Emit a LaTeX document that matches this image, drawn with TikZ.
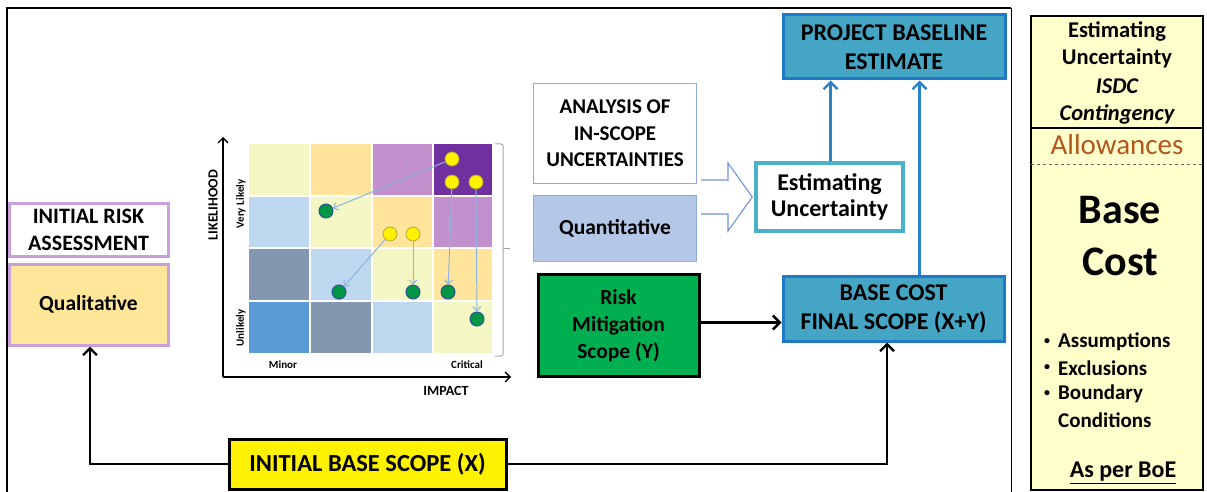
\documentclass[tikz,border=0pt]{standalone}
\usepackage{fontspec}
\setmainfont{Carlito}
\usetikzlibrary{arrows.meta,calc}

\definecolor{teal}{HTML}{45A5C4}
\definecolor{tealedge}{HTML}{1F78C8}
\definecolor{aqua}{HTML}{4BB0CA}
\definecolor{quant}{HTML}{B4C7E7}
\definecolor{quantedge}{HTML}{8FAADC}
\definecolor{mitgreen}{HTML}{00B050}
\definecolor{qualfill}{HTML}{FFE699}
\definecolor{lilac}{HTML}{C9A0DC}
\definecolor{paleyellow}{HTML}{FFFFCC}
\definecolor{allow}{HTML}{B5561E}
\definecolor{flowblue}{HTML}{2B80CA}
\definecolor{cLY}{HTML}{F4F7C3}
\definecolor{cLO}{HTML}{FFE49B}
\definecolor{cLP}{HTML}{C290CD}
\definecolor{cDP}{HTML}{7030A0}
\definecolor{cLB}{HTML}{BDD7EE}
\definecolor{cGB}{HTML}{8497B0}
\definecolor{cBL}{HTML}{5B9BD5}
\definecolor{moveblue}{HTML}{8DB3E2}
\definecolor{dotedge}{HTML}{2F5597}
\definecolor{arrowedge}{HTML}{6F96D8}

\tikzset{
  box/.style={draw, line width=3pt, align=center, inner sep=0pt,
    font=\fontsize{24}{29}\selectfont\bfseries},
  blockteal/.style={box, fill=teal, draw=tealedge},
  blackarrow/.style={line width=2.6pt, -{Straight Barb[length=7pt,width=14pt,line width=2.4pt]}},
  bluearrow/.style={draw=flowblue, line width=3pt, -{Straight Barb[length=7pt,width=14pt,line width=2.4pt]}},
  moveline/.style={draw=moveblue, line width=1pt, -{Straight Barb[length=4pt,width=8pt]}},
  ydot/.style={circle, fill=yellow, draw=olive!70, line width=0.8pt, minimum size=14pt, inner sep=0pt},
  gdot/.style={circle, fill=mitgreen!85!black, draw=dotedge, line width=1pt, minimum size=14pt, inner sep=0pt},
  axislabel/.style={font=\fontsize{14}{16}\selectfont\bfseries},
  smalllabel/.style={font=\fontsize{11}{13}\selectfont\bfseries},
  sidetext/.style={font=\fontsize{22.5}{27}\selectfont\bfseries},
  bullettext/.style={font=\fontsize{21}{25}\selectfont\bfseries, anchor=west, inner sep=0pt},
}

\begin{document}
\begin{tikzpicture}[x=1pt,y=-1pt]
\useasboundingbox (0,0) rectangle (1207,492);
\fill[white] (0,0) rectangle (1207,492);

% main frame (open at the bottom)
\draw[line width=1.8pt] (7,500) -- (7,8) -- (1011,8);
\draw[line width=1pt] (1011,8) -- (1011,500);

% ---------- side panel ----------
\draw[fill=paleyellow, line width=2pt] (1031,16) rectangle (1203,490);
\draw[line width=1.6pt] (1031,128) -- (1203,128);
\draw[dashed, gray!80!black, line width=1pt] (1031,164) -- (1203,164);
\node[sidetext] (pE) at (1117,31) {Estimating};
\node[sidetext] (pU) at (1117,58) {Uncertainty};
\node[sidetext, font=\fontsize{22.5}{27}\selectfont\bfseries\itshape] (pI) at (1117,86) {ISDC};
\node[sidetext, font=\fontsize{22.5}{27}\selectfont\bfseries\itshape] (pC) at (1117,114) {Contingency};
\node[font=\fontsize{29}{33}\selectfont, text=allow] (pA) at (1117,145) {Allowances};
\node[font=\fontsize{42}{48}\selectfont\bfseries] (pB) at (1120,210) {Base};
\node[font=\fontsize{42}{48}\selectfont\bfseries] (pCo) at (1120,262) {Cost};
\node[bullettext] (b1) at (1058,342) {Assumptions};
\node[bullettext] (b2) at (1058,368) {Exclusions};
\node[bullettext] (b3) at (1058,394) {Boundary};
\node[bullettext] (b4) at (1058,420) {Conditions};
\foreach \n in {b1,b2,b3} \node[font=\fontsize{12}{14}\selectfont\bfseries] at ([xshift=-11pt,yshift=0.5pt]\n.west) {•};
\node[font=\fontsize{24}{28}\selectfont\bfseries] (boe) at (1123,473) {\underline{As per BoE}};

% ---------- flow boxes ----------
\node[blockteal, minimum width=222pt, minimum height=64pt] (pbe) at (894,47)
  {PROJECT BASELINE\\ESTIMATE};
\node[box, draw=aqua, line width=3.5pt, fill=white, minimum width=147pt, minimum height=68pt,
  font=\fontsize{24}{26}\selectfont\bfseries] (eu) at (829.5,197)
  {Estimating\\Uncertainty};
\node[box, draw=quantedge, line width=1.5pt, fill=white, minimum width=163pt, minimum height=100pt,
  font=\fontsize{21}{26.5}\selectfont\bfseries] (ana) at (615,133.5)
  {ANALYSIS OF\\IN-SCOPE\\UNCERTAINTIES};
\node[box, draw=quantedge, line width=1.5pt, fill=quant, minimum width=163pt, minimum height=66pt,
  font=\fontsize{21.5}{26}\selectfont\bfseries] (qt) at (615,228.5) {Quantitative};
\node[box, fill=mitgreen, draw=black, minimum width=161pt, minimum height=102pt,
  font=\fontsize{21.5}{27}\selectfont\bfseries] (rm) at (618.5,325.5)
  {Risk\\Mitigation\\Scope (Y)};
\node[blockteal, minimum width=221pt, minimum height=65pt] (bc) at (893.5,308.5)
  {BASE COST\\FINAL SCOPE (X+Y)};
\node[box, fill=yellow, draw=black, minimum width=277pt, minimum height=50pt,
  font=\fontsize{24.5}{28}\selectfont\bfseries] (ibs) at (367.5,464) {INITIAL BASE SCOPE (X)};
\node[box, draw=lilac, fill=white, minimum width=159pt, minimum height=53pt,
  font=\fontsize{22}{27}\selectfont\bfseries] (ira) at (88.5,229.5)
  {INITIAL RISK\\ASSESSMENT};
\node[box, draw=lilac, fill=qualfill, minimum width=159pt, minimum height=81pt,
  font=\fontsize{21.5}{26}\selectfont\bfseries] (ql) at (88.5,304.5) {Qualitative};

% hollow block arrow from the analysis boxes to the estimating box
\draw[draw=arrowedge, fill=white, line width=1.1pt, line join=miter]
  (701,180) -- (728,180) -- (728,163) -- ([xshift=-2pt]eu.west) -- (728,231) -- (728,214) -- (701,214);

% ---------- connectors ----------
\draw[blackarrow] (ibs.west) -| ([xshift=1.5pt]ql.south);
\draw[blackarrow] (ibs.east) -| ([xshift=-6.5pt]bc.south);
\draw[blackarrow] ([yshift=3pt]rm.east) -- ([yshift=3pt]rm.east -| bc.west);
\draw[bluearrow] ([xshift=1pt]eu.north) -- ([xshift=1pt]eu.north |- pbe.south);
\draw[bluearrow] ([xshift=26pt]bc.north) -- ([xshift=26pt]bc.north |- pbe.south);

% ---------- risk matrix ----------
\def\colx{{248,310,372,433,493}}
\def\rowy{{143,196,248,301,354}}
\foreach \r/\cols in {0/{cLY,cLO,cLP,cDP},1/{cLB,cLY,cLO,cLP},2/{cGB,cLB,cLY,cLO},3/{cBL,cGB,cLB,cLY}}{
  \foreach \c [count=\i from 0] in \cols {
    \pgfmathsetmacro{\xa}{\colx[\i]}
    \pgfmathsetmacro{\xb}{\colx[\i+1]}
    \pgfmathsetmacro{\ya}{\rowy[\r]}
    \pgfmathsetmacro{\yb}{\rowy[\r+1]}
    \fill[\c] (\xa+1,\ya+1) rectangle (\xb-1,\yb-1);
  }
}
% bracket at the right side of the grid
\draw[gray!70, line width=1pt, rounded corners=2pt] (495,144) -- (503,144) -- (503,356) -- (495,356);
\draw[gray!70, line width=1pt] (503,248) -- (510,248);

% axes
\coordinate (org) at (223,377);
\coordinate (ytop) at (223,137);
\coordinate (xend) at (511,377);
\draw[line width=1.6pt, -{Straight Barb[length=5pt,width=10pt,line width=1.4pt]}] (org) -- (ytop);
\draw[line width=1.6pt, -{Straight Barb[length=5pt,width=10pt,line width=1.4pt]}] (org) -- (xend);
\node[axislabel, rotate=90] (lk) at (213,205) {LIKELIHOOD};
\node[smalllabel, rotate=90] (vl) at (241,204) {Very Likely};
\node[smalllabel, rotate=90] (ul) at (241,328) {Unlikely};
\node[smalllabel] (mn) at (283,365) {Minor};
\node[smalllabel] (cr) at (467,365) {Critical};
\node[axislabel] (im) at (446,391) {IMPACT};

% risks before and after mitigation
\node[ydot] (y1) at (452,159) {};
\node[ydot] (y2) at (452,182) {};
\node[ydot] (y3) at (476,182) {};
\node[ydot] (y4) at (390,234) {};
\node[ydot] (y5) at (413,234) {};
\node[gdot] (g1) at (326,211) {};
\node[gdot] (g2) at (339,292) {};
\node[gdot] (g3) at (413,292) {};
\node[gdot] (g4) at (448,292) {};
\node[gdot] (g5) at (477,319) {};
\draw[moveline] (y1) -- (g1);
\draw[moveline] (y4) -- (g2);
\draw[moveline] (y5) -- (g3);
\draw[moveline] (y2) -- (g4);
\draw[moveline] (y3) -- (g5);
\end{tikzpicture}
\end{document}
